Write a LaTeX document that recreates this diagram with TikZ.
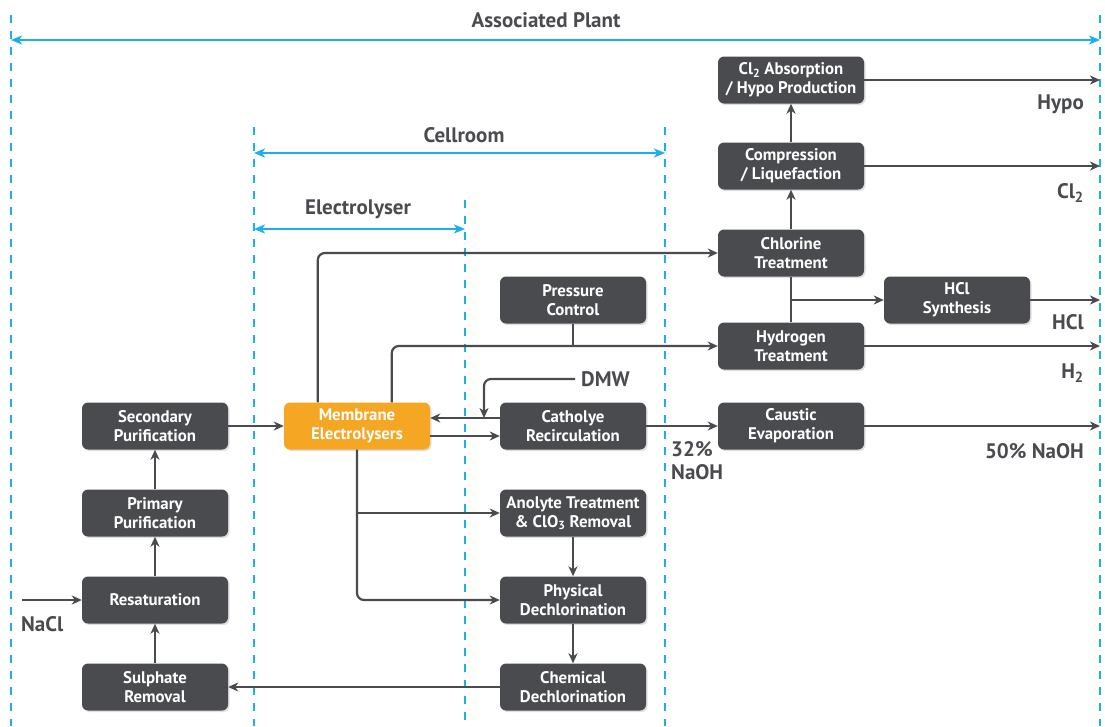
\documentclass[tikz,border=0pt]{standalone}
\usepackage{fontspec}
\setmainfont{PT Sans}
\usetikzlibrary{arrows.meta,shadows}
\definecolor{boxgrey}{HTML}{4A4B4F}
\definecolor{cellorange}{HTML}{F5A623}
\definecolor{zoneblue}{HTML}{1BB0E8}
\tikzset{
	unit/.style={fill=boxgrey, rounded corners=6pt, minimum width=146pt, minimum height=47pt,
		inner sep=0pt, align=center, text=white, font=\bfseries\fontsize{16.8}{19}\selectfont,
		drop shadow={shadow xshift=1.5pt, shadow yshift=-1.5pt, opacity=0.25}},
	flow/.style={draw=boxgrey, line width=2.2pt, rounded corners=7pt, -{Stealth[length=10pt,width=9pt,inset=3pt]}},
	pipe/.style={draw=boxgrey, line width=2.2pt, rounded corners=7pt},
	zone/.style={draw=zoneblue, line width=1.6pt, dash pattern=on 8pt off 8pt},
	span/.style={draw=zoneblue, line width=2.4pt, {Stealth[length=11pt,width=9pt,inset=3pt]}-{Stealth[length=11pt,width=9pt,inset=3pt]}},
	tag/.style={text=boxgrey, font=\bfseries\fontsize{21}{23}\selectfont, align=left, inner sep=0pt}
}
\begin{document}
\begin{tikzpicture}[x=1pt,y=-1pt]
	\useasboundingbox (0,0) rectangle (1105,726);
	% zone borders
	\draw[zone] (11,15) -- (11,726);
	\draw[zone] (1100,15) -- (1100,726);
	\draw[zone] (254,127) -- (254,726);
	\draw[zone] (665,127) -- (665,726);
	\draw[zone] (465,200) -- (465,726);
	% zone spans
	\draw[span] (11,40) -- (1100,40);
	\node[tag] (lplant) at (546,20) {Associated Plant};
	\draw[span] (254,153) -- (665,153);
	\node[tag] (lroom) at (464,135) {Cellroom};
	\draw[span] (254,229) -- (465,229);
	\node[tag] (lcell) at (358,209) {Electrolyser};
	% units
	\node[unit] (absorb) at (791,80) {Cl\textsubscript{2} Absorption\\/ Hypo Production};
	\node[unit] (compr) at (791,166) {Compression\\/ Liquefaction};
	\node[unit] (chlor) at (791,253) {Chlorine\\Treatment};
	\node[unit] (hcl) at (957,300) {HCl\\Synthesis};
	\node[unit] (hydro) at (791,346) {Hydrogen\\Treatment};
	\node[unit] (press) at (573,300) {Pressure\\Control};
	\node[unit] (cath) at (573,426) {Catholye\\Recirculation};
	\node[unit] (caust) at (791,426) {Caustic\\Evaporation};
	\node[unit, fill=cellorange] (memb) at (357,426) {Membrane\\Electrolysers};
	\node[unit] (second) at (155,426) {Secondary\\Purification};
	\node[unit] (prim) at (155,513) {Primary\\Purification};
	\node[unit] (resat) at (155,600) {Resaturation};
	\node[unit] (sulph) at (155,687) {Sulphate\\Removal};
	\node[unit] (anol) at (573,513) {Anolyte Treatment\\\& ClO\textsubscript{3} Removal};
	\node[unit] (phys) at (573,600) {Physical\\Dechlorination};
	\node[unit] (chem) at (573,687) {Chemical\\Dechlorination};
	% outlets
	\coordinate (edge) at (1100,0);
	\coordinate (salt) at (22,600);
	\coordinate (water) at (575,379);
	\node[tag, anchor=east] (lhypo) at (1084,104) {Hypo};
	\node[tag, anchor=east] (lcl) at (1084,193) {Cl\textsubscript{2}};
	\node[tag, anchor=east] (lhcl) at (1084,322) {HCl};
	\node[tag, anchor=east] (lh) at (1084,373) {H\textsubscript{2}};
	\node[tag, anchor=east] (lnaoh) at (1084,451) {50\% NaOH};
	\node[tag, anchor=west] (lweak) at (671,461) {32\%\\NaOH};
	\node[tag, anchor=west] (ldmw) at (581,379) {DMW};
	\node[tag, anchor=west] (lnacl) at (21,624) {NaCl};
	% gas side
	\draw[flow] ([xshift=34pt]memb.north west) |- (chlor.west);
	\draw[flow] ([xshift=108pt]memb.north west) |- (hydro.west);
	\draw[pipe] (press.south) -- (press.south |- hydro.west);
	\draw[pipe] (chlor.south) -- (hydro.north);
	\draw[flow] (chlor.south |- hcl.west) -- (hcl.west);
	\draw[flow] (chlor.north) -- (compr.south);
	\draw[flow] (compr.north) -- (absorb.south);
	\draw[flow] (absorb.east) -- (absorb.east -| edge);
	\draw[flow] (compr.east) -- (compr.east -| edge);
	\draw[flow] (hcl.east) -- (hcl.east -| edge);
	\draw[flow] (hydro.east) -- (hydro.east -| edge);
	% caustic side
	\draw[flow] ([yshift=8pt]cath.west) -- ([yshift=8pt]cath.west -| memb.east);
	\draw[flow] ([yshift=-10pt]memb.east) -- ([yshift=-10pt]memb.east -| cath.west);
	\draw[flow] (water) -| (484,418);
	\draw[flow] (cath.east) -- (caust.west);
	\draw[flow] (caust.east) -- (caust.east -| edge);
	% brine loop
	\draw[flow] (memb.south) |- (phys.west);
	\draw[flow] (memb.south |- anol.west) -- (anol.west);
	\draw[flow] (anol.south) -- (phys.north);
	\draw[flow] (phys.south) -- (chem.north);
	\draw[flow] (chem.west) -- (sulph.east);
	\draw[flow] (sulph.north) -- (resat.south);
	\draw[flow] (resat.north) -- (prim.south);
	\draw[flow] (prim.north) -- (second.south);
	\draw[flow] (second.east) -- (memb.west);
	\draw[flow] (salt) -- (resat.west);
\end{tikzpicture}
\end{document}
